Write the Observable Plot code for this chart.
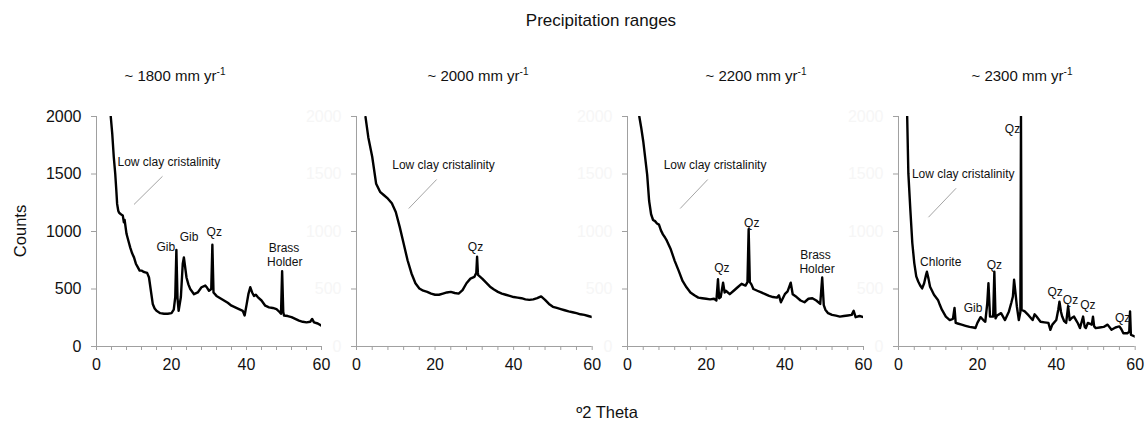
<!DOCTYPE html>
<html>
<head>
<meta charset="utf-8">
<script src="https://cdn.jsdelivr.net/npm/d3@7"></script>
<script src="https://cdn.jsdelivr.net/npm/@observablehq/plot@0.6"></script>
<style>
  html, body { margin: 0; padding: 0; background: white; }
  #wrap { position: relative; width: 1146px; height: 421px; font-family: "Liberation Sans", Arial, sans-serif; color: #111; overflow: hidden; }
  .t { position: absolute; white-space: nowrap; transform: translate(-50%, -50%); font-size: 15px; }
  .t sup { font-size: 10px; vertical-align: 6px; line-height: 0; }
  .panel { position: absolute; top: 100px; }
</style>
</head>
<body>
<div id="wrap"></div>
<script>
// ---------- data ----------
const panelTitles = ["~ 1800 mm yr", "~ 2000 mm yr", "~ 2200 mm yr", "~ 2300 mm yr"];
const xTickLabels = [0, 20, 40, 60];
const yTickLabels = [0, 500, 1000, 1500, 2000];

const theta1 = [3.8,4.2,4.6,5,5.3,5.5,5.8,6,6.5,7,7.3,7.5,8,8.5,9,9.5,10,10.5,11,11.5,12,12.5,13,13.5,14,14.5,15,15.5,16,17,18,19,20,20.6,21,21.3,21.6,21.9,22.5,23,23.3,23.6,24,24.5,25,26,27,28,29,29.5,30,30.6,30.9,31.2,32,33,34,35,36,37,38,39,39.5,40,40.5,41,41.5,42,42.5,43,44,45,46,47,48,48.8,49.2,49.5,49.8,50,51,52,53,54,55,56,57,57.5,58,59,60];
const counts1 = [2000,1850,1650,1500,1350,1240,1180,1165,1150,1140,1080,1100,980,920,860,810,775,720,690,660,660,650,645,640,600,485,370,330,310,290,285,285,290,320,430,840,420,310,430,720,775,700,600,540,500,455,470,515,530,510,485,500,885,470,440,420,400,380,355,340,325,310,270,360,455,515,470,440,450,430,400,355,340,335,325,300,285,655,300,270,265,255,240,225,215,210,215,240,210,200,180];

const theta2 = [2.3,3,4,5,6,7,8,9,10,11,12,13,14,15,16,17,18,19,20,21,22,23,24,25,26,27,28,29,30,30.5,30.7,30.9,31,32,33,34,35,36,37,38,39,40,41,42,43,44,45,46,47,48,49,50,51,52,53,54,55,56,57,58,59,60];
const counts2 = [1995,1820,1650,1415,1345,1315,1285,1245,1170,1040,895,750,635,550,505,485,475,460,450,450,460,470,475,465,460,490,550,590,605,640,780,640,620,590,555,520,495,475,460,450,440,430,425,420,410,405,410,420,435,405,370,345,335,325,315,305,298,290,280,275,265,255];

const theta3 = [3,3.5,4,4.5,5,5.5,6,6.5,7,7.5,8,8.5,9,9.5,10,11,12,13,14,15,16,17,18,19,20,21,22,22.6,23,23.3,23.7,24.3,24.7,25,26,27,28,29,30,30.5,30.8,31.1,31.5,32,33,34,35,36,37,38,38.5,39,40,40.7,41.5,42,43,44,45,46,47,48,49,49.5,49.9,50.3,51,52,53,54,55,56,57,57.5,58,59,60];
const counts3 = [2000,1900,1785,1640,1495,1265,1150,1100,1090,1070,1060,1010,975,950,920,845,745,660,570,515,470,445,425,420,415,410,415,400,585,420,430,555,470,485,455,485,515,545,530,560,1020,560,540,500,485,470,455,440,430,425,445,385,455,480,555,455,430,400,385,415,420,400,370,600,360,320,290,275,268,260,265,270,275,310,255,265,255];

const theta4 = [2.2,2.5,3,3.5,4,4.5,5,5.5,6,6.5,7,7.2,7.6,8,9,10,10.5,11,12,13,13.8,14.2,14.5,15,16,17,18,19,19.5,20,20.8,21.5,22,22.5,22.8,23.2,24,24.3,24.6,25,26,27,28,28.6,29,29.3,29.7,30,30.5,30.9,31.05,31.2,32,33,34,34.5,35,36,37,38,38.5,39,40,40.5,40.8,41.2,41.5,42,42.5,43,43.4,44,44.5,45,45.5,46,46.8,47.2,47.5,48,49,49.3,49.6,50,51,52,53,54,55,55.5,56,56.5,57,58,58.5,58.7,58.9,59,60];
const counts4 = [2000,1505,1190,900,725,610,565,530,505,550,625,650,590,520,450,405,360,320,260,230,240,335,205,200,190,180,170,165,160,205,255,230,215,375,550,260,260,650,245,270,290,230,305,380,435,580,450,350,230,300,2000,320,305,270,230,280,260,215,210,205,145,190,230,320,390,300,260,220,205,350,230,250,260,230,200,160,260,170,160,205,190,260,175,160,165,170,190,145,165,170,175,150,115,115,130,305,110,100,85];

// annotation labels (data coordinates) per panel
const lblText1 = ["Gib", "Gib", "Qz", "Brass", "Holder"];
const lblX1 = [18.5, 24.7, 31.4, 50.0, 50.2];
const lblY1 = [860, 952, 990, 855, 730];

const lblText2 = ["Qz"];
const lblX2 = [30.3];
const lblY2 = [866];

const lblText3 = ["Qz", "Qz", "Brass", "Holder"];
const lblX3 = [24.0, 31.6, 47.8, 48.2];
const lblY3 = [680, 1076, 797, 673];

const lblText4 = ["Chlorite", "Gib", "Qz", "Qz", "Qz", "Qz", "Qz", "Qz"];
const lblX4 = [10.7, 18.9, 24.3, 28.9, 39.7, 43.6, 48.0, 56.8];
const lblY4 = [730, 333, 704, 1889, 473, 400, 362, 247];

const clayText = "Low clay cristalinity";
const clayX = [5.6, 9.1, 9.2, 3.4];
const clayY = [1604, 1575, 1575, 1500];
const leadX1 = [17.6, 20.4, 20.4, 14.6];
const leadY1 = [1480, 1452, 1452, 1376];
const leadX2 = [10.0, 13.3, 13.4, 7.6];
const leadY2 = [1235, 1200, 1200, 1124];

// ---------- layout ----------
const axisPos = [95.7, 356, 627.3, 898.3];
const endPos = [320.7, 591.7, 863.3, 1135];
const titleCX = [175, 478, 756, 1022];

const thetas = [theta1, theta2, theta3, theta4];
const counts = [counts1, counts2, counts3, counts4];
const lblTexts = [lblText1, lblText2, lblText3, lblText4];
const lblXs = [lblX1, lblX2, lblX3, lblX4];
const lblYs = [lblY1, lblY2, lblY3, lblY4];

const wrap = document.getElementById("wrap");
const font = '"Liberation Sans", Arial, sans-serif';

function addText(html, x, y, extra) {
  const d = document.createElement("div");
  d.className = "t";
  d.innerHTML = html;
  d.style.left = x + "px";
  d.style.top = y + "px";
  if (extra) Object.assign(d.style, extra);
  wrap.appendChild(d);
}

addText("Precipitation ranges", 601, 21, {fontSize: "17px"});
panelTitles.forEach((t, i) => addText(t + "<sup>-1</sup>", titleCX[i], 75));
addText("º2 Theta", 607, 412, {fontSize: "16.5px"});
addText("Counts", 19.5, 231, {fontSize: "16.5px", transform: "translate(-50%, -50%) rotate(-90deg)"});

for (let i = 0; i < 4; i++) {
  const ml = 60, mr = 12;
  const w = ml + (endPos[i] - axisPos[i]) + mr;
  const data = thetas[i].map((t, j) => ({t, c: counts[i][j]}));
  const labels = lblTexts[i].map((s, j) => ({s, x: lblXs[i][j], y: lblYs[i][j]}));
  const yLabelFill = i === 0 ? "#111" : "#f6f6f6";
  const chart = Plot.plot({
    width: w,
    height: 280,
    marginLeft: ml,
    marginRight: mr,
    marginTop: 16,
    marginBottom: 34,
    style: {fontFamily: font, fontSize: "16px", background: "none", overflow: "visible"},
    x: {domain: [0, 60]},
    y: {domain: [0, 2000]},
    marks: [
      Plot.ruleX([0], {stroke: "#a0a0a0", strokeWidth: 1}),
      Plot.ruleY([0], {stroke: "#a0a0a0", strokeWidth: 1}),
      Plot.axisX({ticks: d3.range(0, 61, 4), tickFormat: d => xTickLabels.includes(d) ? String(d) : "", tickSize: 4, tickPadding: 8, stroke: "#a0a0a0", fill: "#111", label: null}),
      Plot.axisY({ticks: yTickLabels, tickFormat: d => String(d), tickSize: 5, tickPadding: 10, stroke: "#a0a0a0", fill: yLabelFill, label: null}),
      Plot.link([0], {x1: () => leadX1[i], y1: () => leadY1[i], x2: () => leadX2[i], y2: () => leadY2[i], stroke: "#9a9a9a", strokeWidth: 0.9}),
      Plot.text([clayText], {x: () => clayX[i], y: () => clayY[i], text: d => d, textAnchor: "start", fontSize: 12, fill: "#111"}),
      Plot.line(data, {x: "t", y: "c", stroke: "#000", strokeWidth: 2.4, strokeLinejoin: "round", clip: true}),
      Plot.text(labels, {x: "x", y: "y", text: "s", textAnchor: "middle", fontSize: 12, fill: "#111"})
    ]
  });
  chart.classList.add("panel");
  chart.style.left = (axisPos[i] - ml) + "px";
  wrap.appendChild(chart);
}
</script>
</body>
</html>
